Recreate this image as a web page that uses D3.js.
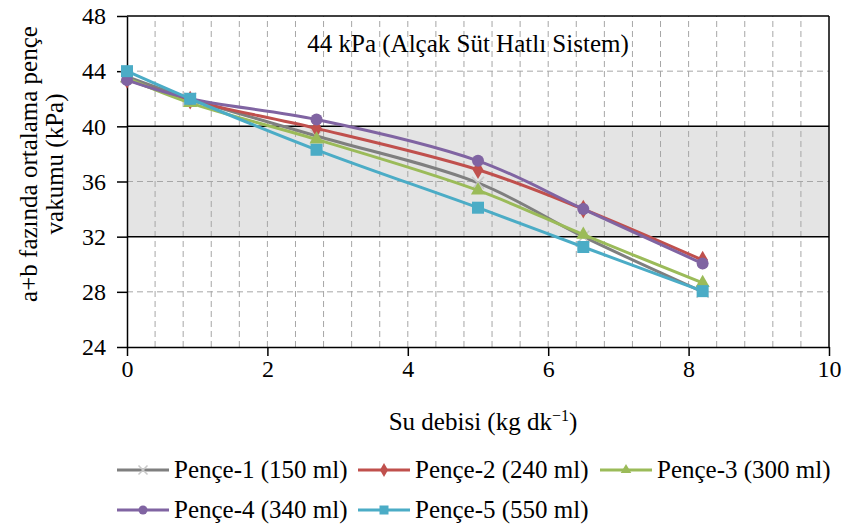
<!DOCTYPE html>
<html>
<head>
<meta charset="utf-8">
<script src="https://cdn.jsdelivr.net/npm/d3@7"></script>
<style>
  body { margin: 0; background: #fff; }
</style>
</head>
<body>
<svg id="chart" width="843" height="525"></svg>
<script>
// water flow (kg/dk) at which the cups were measured
const flow = [0, 0.9, 2.7, 5, 6.5, 8.2];
const pence1 = [43.6, 42.0, 39.3, 35.9, 32.0, 28.0];
const pence2 = [43.4, 41.9, 39.85, 36.85, 34.0, 30.3];
const pence3 = [43.5, 41.7, 39.05, 35.35, 32.15, 28.65];
const pence4 = [43.35, 42.0, 40.5, 37.5, 34.0, 30.05];
const pence5 = [44.0, 42.0, 38.3, 34.1, 31.25, 28.05];
const seriesNames = ["Pençe-1 (150 ml)", "Pençe-2 (240 ml)", "Pençe-3 (300 ml)", "Pençe-4 (340 ml)", "Pençe-5 (550 ml)"];
const xTicks = [0, 2, 4, 6, 8, 10];
const yTicks = [24, 28, 32, 36, 40, 44, 48];
const band = [32, 40];

const colors = ["#7f7f7f", "#c0504d", "#9bbb59", "#8064a2", "#4bacc6"];
const shapes = ["x", "diamond", "triangle", "circle", "square"];
const allSeries = [pence1, pence2, pence3, pence4, pence5];

const FONT = '"Liberation Serif"';
const W = 843, H = 525;
const m = { left: 127, right: 14, top: 16, bottom: 178 };
const svg = d3.select("#chart");

const x = d3.scaleLinear().domain([0, 10]).range([m.left, W - m.right]);
const y = d3.scaleLinear().domain([24, 48]).range([H - m.bottom, m.top]);

// gray band
svg.append("rect")
  .attr("x", x(0)).attr("y", y(band[1]))
  .attr("width", x(10) - x(0)).attr("height", y(band[0]) - y(band[1]))
  .attr("fill", "#e4e4e4");

// dashed grid
const grid = svg.append("g").attr("stroke", "#a6a6a6").attr("stroke-dasharray", "6,4").attr("stroke-width", 1);
d3.range(1, 25).map(i => i * 0.4).forEach(v => {
  grid.append("line").attr("x1", x(v)).attr("x2", x(v)).attr("y1", y(24)).attr("y2", y(48));
});
[28, 36, 44].forEach(v => {
  grid.append("line").attr("x1", x(0)).attr("x2", x(10)).attr("y1", y(v)).attr("y2", y(v));
});

// band borders and plot frame
band.forEach(v => {
  svg.append("line").attr("x1", x(0)).attr("x2", x(10)).attr("y1", y(v)).attr("y2", y(v))
    .attr("stroke", "#000").attr("stroke-width", 1.5);
});
svg.append("line").attr("x1", x(0)).attr("x2", x(10)).attr("y1", y(48)).attr("y2", y(48)).attr("stroke", "#000").attr("stroke-width", 1.5);
svg.append("line").attr("x1", x(10)).attr("x2", x(10)).attr("y1", y(48)).attr("y2", y(24)).attr("stroke", "#000").attr("stroke-width", 1.5);

// axes
const xAxis = svg.append("g").attr("transform", `translate(0,${y(24)})`)
  .call(d3.axisBottom(x).tickValues(xTicks).tickSizeInner(9).tickSizeOuter(0).tickPadding(4));
const yAxis = svg.append("g").attr("transform", `translate(${x(0)},0)`)
  .call(d3.axisLeft(y).tickValues(yTicks).tickSizeInner(10).tickSizeOuter(0).tickPadding(11));
[xAxis, yAxis].forEach(a => {
  a.attr("font-family", null).attr("font-size", null);
  a.select(".domain").attr("stroke", "#000").attr("stroke-width", 1.5);
  a.selectAll(".tick line").attr("stroke", "#000").attr("stroke-width", 1.5);
  a.selectAll("text").style("font-family", FONT).style("font-size", "24px").attr("fill", "#000");
});

// markers
function marker(g, shape, cx, cy, color, s) {
  if (shape === "circle") {
    g.append("circle").attr("cx", cx).attr("cy", cy).attr("r", s * 0.5).attr("fill", color);
  } else if (shape === "square") {
    g.append("rect").attr("x", cx - s / 2).attr("y", cy - s / 2).attr("width", s).attr("height", s).attr("fill", color);
  } else if (shape === "diamond") {
    g.append("path").attr("d", d3.symbol(d3.symbolDiamond, s * s * 0.7)()).attr("transform", `translate(${cx},${cy})`).attr("fill", color);
  } else if (shape === "triangle") {
    g.append("path").attr("d", d3.symbol(d3.symbolTriangle, s * s * 0.6)()).attr("transform", `translate(${cx},${cy})`).attr("fill", color);
  } else {
    const h = s / 2;
    g.append("path").attr("d", `M${cx - h},${cy - h}L${cx + h},${cy + h}M${cx - h},${cy + h}L${cx + h},${cy - h}`)
      .attr("stroke", "#c8c8c8").attr("stroke-width", 1.5).attr("fill", "none");
  }
}

const line = d3.line().x(d => x(d[0])).y(d => y(d[1])).curve(d3.curveCatmullRom.alpha(0.5));
allSeries.forEach((vals, i) => {
  const pts = flow.map((f, j) => [f, vals[j]]);
  const g = svg.append("g");
  g.append("path").datum(pts).attr("d", line).attr("fill", "none")
    .attr("stroke", colors[i]).attr("stroke-width", 3);
  pts.forEach(p => marker(g, shapes[i], x(p[0]), y(p[1]), colors[i], 12));
});

function label(xp, yp, str, size, anchor) {
  return svg.append("text").attr("x", xp).attr("y", yp).attr("text-anchor", anchor || "start")
    .style("font-family", FONT).style("font-size", size + "px").text(str);
}

// title inside plot
label(468, 52, "44 kPa (Alçak Süt Hatlı Sistem)", 25, "middle");

// axis labels
const xl = label(483, 430, "Su debisi (kg dk", 25, "middle");
xl.append("tspan").attr("dy", -9).style("font-size", "16px").text("−1");
xl.append("tspan").attr("dy", 9).text(")");
label(0, 0, "a+b fazında ortalama pençe", 25, "middle").attr("transform", "translate(37,164) rotate(-90)");
label(0, 0, "vakumu  (kPa)", 25, "middle").attr("transform", "translate(63,164) rotate(-90)");

// legend
const legendPos = [[117, 470], [358, 470], [600, 470], [117, 510], [358, 510]];
seriesNames.forEach((name, i) => {
  const [lx, ly] = legendPos[i];
  const g = svg.append("g");
  g.append("line").attr("x1", lx).attr("x2", lx + 52).attr("y1", ly).attr("y2", ly)
    .attr("stroke", colors[i]).attr("stroke-width", 3);
  marker(g, shapes[i], lx + 26, ly, colors[i], 9);
  label(lx + 57, ly + 8, name, 25);
});
</script>
</body>
</html>
